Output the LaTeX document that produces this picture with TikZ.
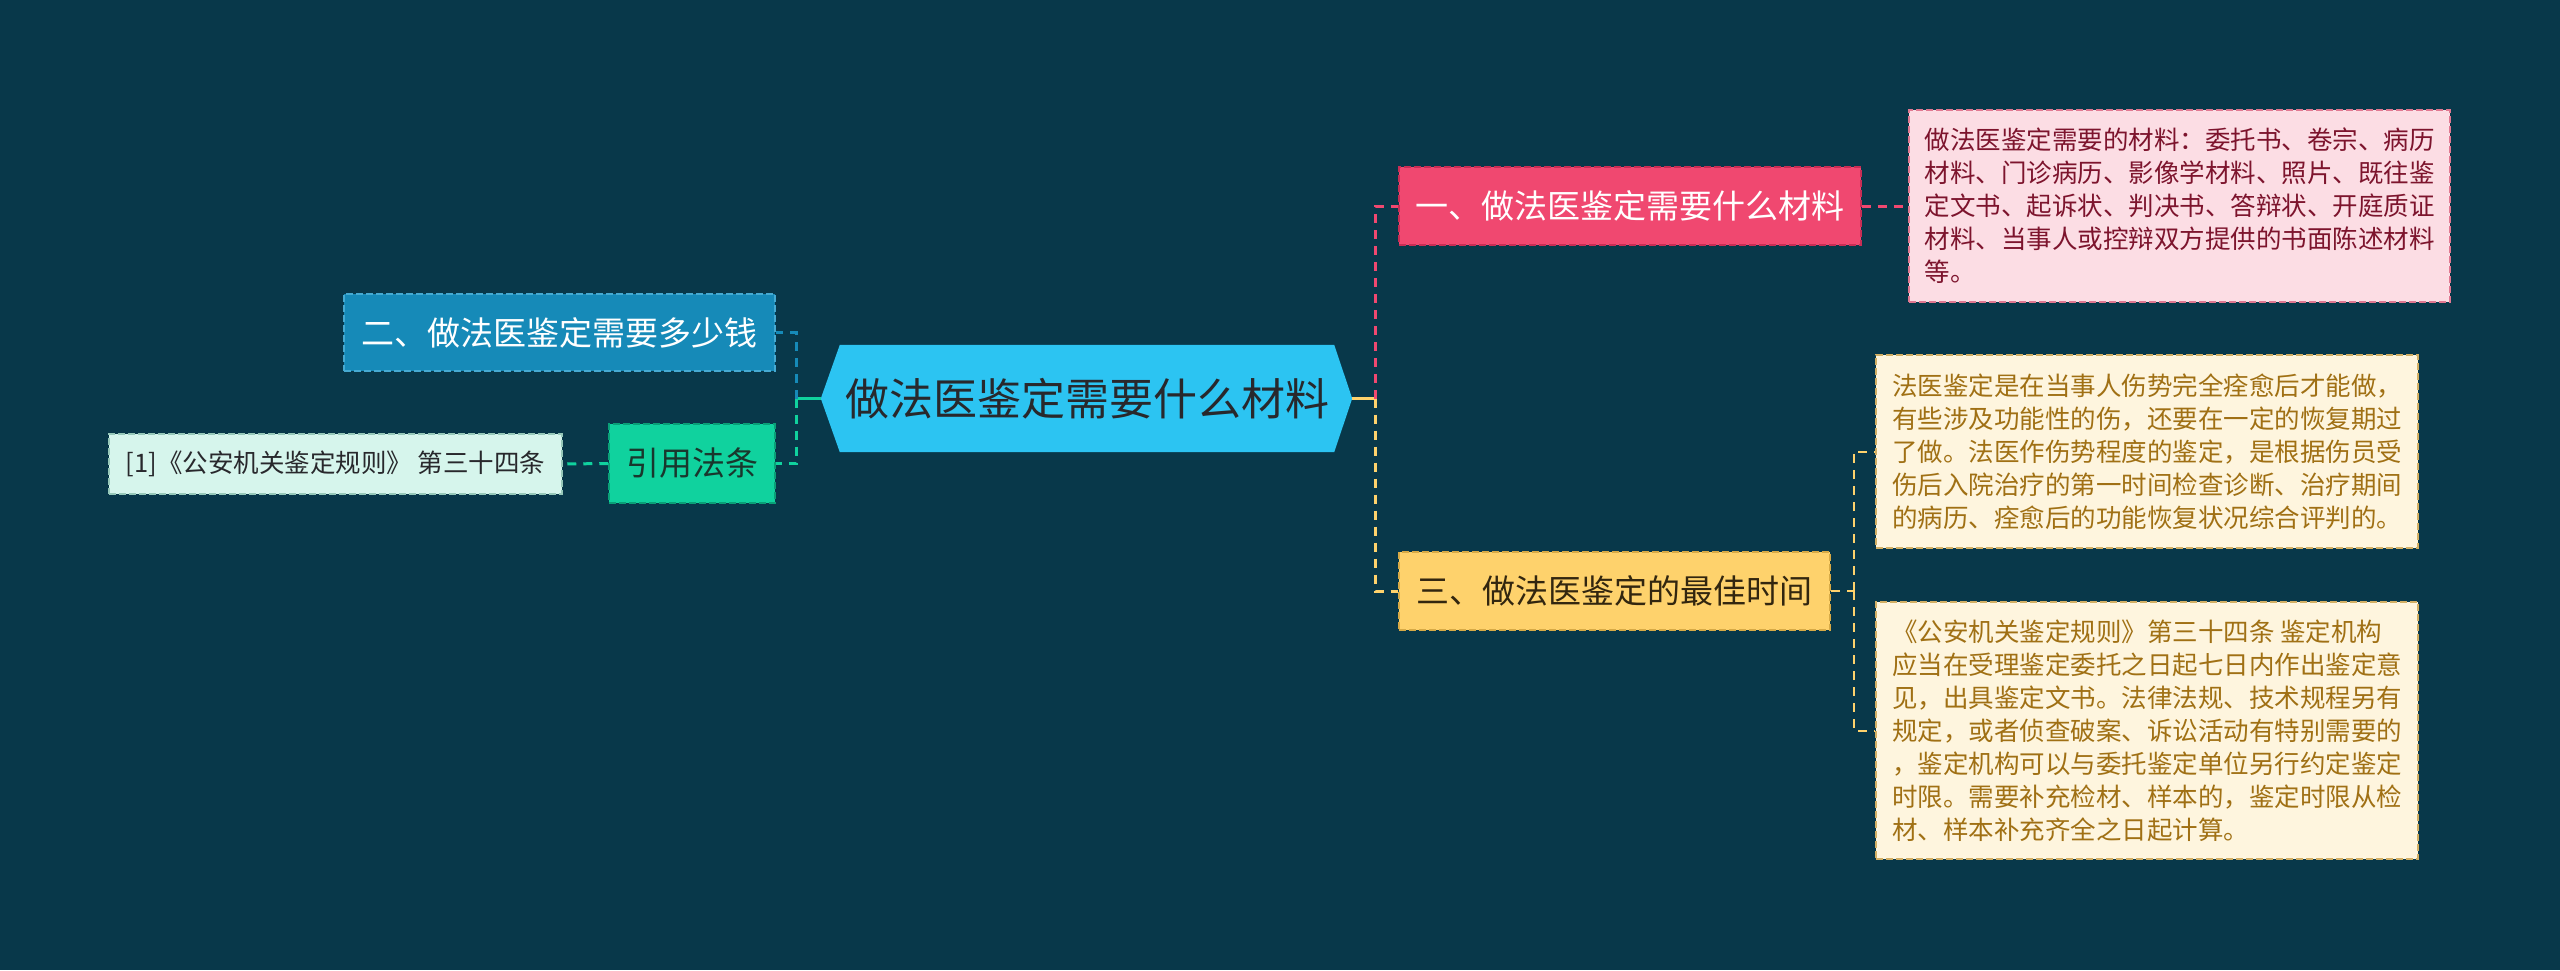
\documentclass[tikz,border=0pt]{standalone}
\usepackage{fontspec}
\setmainfont{Noto Sans CJK SC}
\usetikzlibrary{backgrounds}
\definecolor{bg}{RGB}{8,56,74}
\definecolor{cfill}{RGB}{44,196,242}
\definecolor{ctext}{RGB}{40,40,44}
\definecolor{pinkfill}{RGB}{240,72,112}
\definecolor{pinkline}{RGB}{240,72,112}
\definecolor{pinkborder}{RGB}{200,45,85}
\definecolor{pinklight}{RGB}{252,221,228}
\definecolor{pinklightborder}{RGB}{225,120,145}
\definecolor{pinktext}{RGB}{125,20,45}
\definecolor{yelfill}{RGB}{254,210,108}
\definecolor{yelline}{RGB}{254,210,108}
\definecolor{yelborder}{RGB}{215,170,70}
\definecolor{yeltext}{RGB}{50,38,15}
\definecolor{yellight}{RGB}{254,245,222}
\definecolor{yellightborder}{RGB}{210,175,100}
\definecolor{yellighttext}{RGB}{160,112,20}
\definecolor{bluefill}{RGB}{22,138,184}
\definecolor{blueborder}{RGB}{70,170,210}
\definecolor{greenfill}{RGB}{16,210,158}
\definecolor{greenborder}{RGB}{10,160,120}
\definecolor{greentext}{RGB}{25,55,45}
\definecolor{mintfill}{RGB}{214,245,236}
\definecolor{mintborder}{RGB}{150,200,185}
\begin{document}
\begin{tikzpicture}[x=1pt,y=-1pt,
  boxnode/.style={inner sep=0pt, draw, line width=1.5pt, dash pattern=on 7pt off 3pt},
  bigtext/.style={font=\fontsize{33pt}{40pt}\selectfont},
  smalltext/.style={font=\fontsize{25.5pt}{33pt}\selectfont, align=left},
  conn/.style={line width=3pt},
  dconn/.style={line width=3pt, dash pattern=on 9pt off 7pt}]
\useasboundingbox (0,0) rectangle (2560,970);

% central topic
\node[inner sep=0pt, minimum width=494pt, minimum height=107pt, text=ctext,
      font=\fontsize{44pt}{50pt}\selectfont] (c) at (1087,398.5) {做法医鉴定需要什么材料};
\begin{scope}[on background layer]
  \fill[bg] (0,0) rectangle (2560,970);
  \fill[cfill] (c.north west) -- (c.north east) -- ([xshift=18pt]c.east)
    -- (c.south east) -- (c.south west) -- ([xshift=-19pt]c.west) -- cycle;
\end{scope}
\coordinate (cl) at ([xshift=-19pt]c.west);
\coordinate (cr) at ([xshift=18pt]c.east);

% right branches
\node[boxnode, bigtext, fill=pinkfill, draw=pinkborder, text=white,
      minimum width=462pt, minimum height=78pt] (n1) at (1630,206) {一、做法医鉴定需要什么材料};
\node[boxnode, bigtext, fill=yelfill, draw=yelborder, text=yeltext,
      minimum width=431pt, minimum height=78pt] (n3) at (1614.5,591) {三、做法医鉴定的最佳时间};

\node[boxnode, smalltext, fill=pinklight, draw=pinklightborder, text=pinktext,
      minimum width=541pt, minimum height=192pt] (d1) at (2179.5,206)
  {做法医鉴定需要的材料：委托书、卷宗、病历\\材料、门诊病历、影像学材料、照片、既往鉴\\定文书、起诉状、判决书、答辩状、开庭质证\\材料、当事人或控辩双方提供的书面陈述材料\\等。};
\node[boxnode, smalltext, fill=yellight, draw=yellightborder, text=yellighttext,
      minimum width=542pt, minimum height=193pt] (d2) at (2147,451.5)
  {法医鉴定是在当事人伤势完全痊愈后才能做，\\有些涉及功能性的伤，还要在一定的恢复期过\\了做。法医作伤势程度的鉴定，是根据伤员受\\伤后入院治疗的第一时间检查诊断、治疗期间\\的病历、痊愈后的功能恢复状况综合评判的。};
\node[boxnode, smalltext, fill=yellight, draw=yellightborder, text=yellighttext,
      minimum width=542pt, minimum height=257pt] (d3) at (2147,730.5)
  {《公安机关鉴定规则》第三十四条 鉴定机构\\应当在受理鉴定委托之日起七日内作出鉴定意\\见，出具鉴定文书。法律法规、技术规程另有\\规定，或者侦查破案、诉讼活动有特别需要的\\，鉴定机构可以与委托鉴定单位另行约定鉴定\\时限。需要补充检材、样本的，鉴定时限从检\\材、样本补充齐全之日起计算。};

% left branches
\node[boxnode, bigtext, fill=bluefill, draw=blueborder, text=white,
      minimum width=431pt, minimum height=77pt] (n2) at (559.5,332.5) {二、做法医鉴定需要多少钱};
\node[boxnode, bigtext, fill=greenfill, draw=greenborder, text=greentext,
      minimum width=166pt, minimum height=79pt] (cite) at (692,463.5) {引用法条};
\node[boxnode, font=\fontsize{25.5pt}{30pt}\selectfont, fill=mintfill, draw=mintborder, text=ctext,
      minimum width=453pt, minimum height=60pt] (ref) at (335.5,464) {[1]《公安机关鉴定规则》 第三十四条};

% connectors
\draw[conn, greenfill] (cl) -- ++(-24,0) coordinate (lj);
\draw[dconn, bluefill] (lj) |- (n2.east);
\draw[dconn, greenfill] (lj) |- (cite.east);
\draw[dconn, greenfill] (cite.west) -- (ref.east);

\draw[conn, yelline] (cr) -- ++(23,0) coordinate (rj);
\draw[dconn, pinkline] (rj) |- (n1.west);
\draw[dconn, yelline] (rj) |- (n3.west);
\draw[dconn, pinkline] (n1.east) -- (d1.west);
\draw[dconn, yelline, line width=2pt] (n3.east) -- ++(23,0) coordinate (yj);
\draw[dconn, yelline, line width=2pt] (yj) |- (d2.west);
\draw[dconn, yelline, line width=2pt] (yj) |- (d3.west);
\end{tikzpicture}
\end{document}
